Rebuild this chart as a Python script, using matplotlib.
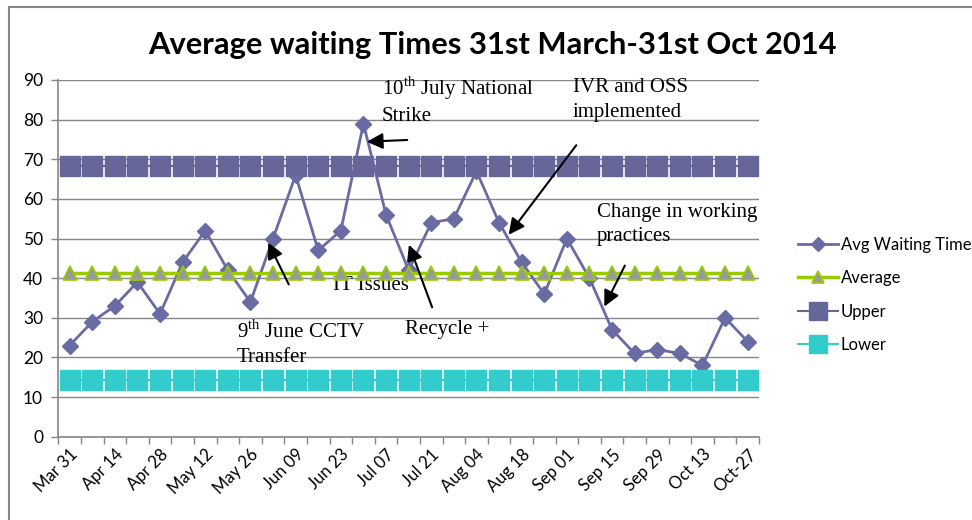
import matplotlib
matplotlib.use("Agg")
import matplotlib.pyplot as plt
from matplotlib.patches import Rectangle

# weekly categories
weeks = ["Mar 31", "Apr 07", "Apr 14", "Apr 21", "Apr 28", "May 05", "May 12", "May 19",
         "May 26", "Jun 02", "Jun 09", "Jun 16", "Jun 23", "Jun 30", "Jul 07", "Jul 14",
         "Jul 21", "Jul 28", "Aug 04", "Aug 11", "Aug 18", "Aug 25", "Sep 01", "Sep 08",
         "Sep 15", "Sep 22", "Sep 29", "Oct 06", "Oct 13", "Oct 20", "Oct-27"]
avg_waiting = [23, 29, 33, 39, 31, 44, 52, 42, 34, 50, 66, 47, 52, 79, 56, 42,
               54, 55, 67, 54, 44, 36, 50, 40, 27, 21, 22, 21, 18, 30, 24]
average_val = 41.4
upper_val = 68.3
lower_val = 14.3
average = [average_val] * len(weeks)
upper = [upper_val] * len(weeks)
lower = [lower_val] * len(weeks)

plt.rcParams["mathtext.fontset"] = "custom"
plt.rcParams["mathtext.rm"] = "Liberation Serif"

fig = plt.figure(figsize=(9.72, 5.2), dpi=100)
ax = fig.add_axes([58.3 / 972, 1 - 436.7 / 520, (759 - 58.3) / 972, (436.7 - 80) / 520])

x = list(range(len(weeks)))
ax.plot(x, avg_waiting, color="#6B6BA3", lw=2.0, marker="D", ms=8,
        label="Avg Waiting Time", zorder=3)
ax.plot(x, average, color="#99CC00", lw=2.5, marker="^", ms=10, mfc="#999999",
        mec="#99CC00", mew=1.2, label="Average", zorder=4)
ax.plot(x, upper, color="#666699", lw=1.5, marker="s", ms=14.5, label="Upper", zorder=5)
ax.plot(x, lower, color="#33CCCC", lw=1.5, marker="s", ms=14.5, label="Lower", zorder=5)

ax.set_xlim(-0.5, len(weeks) - 0.5)
ax.set_ylim(0, 90)
ax.set_yticks(range(0, 91, 10))
ax.yaxis.grid(True, color="#868686", lw=1.0)
ax.set_axisbelow(True)
for s in ["top", "right"]:
    ax.spines[s].set_visible(False)
for s in ["left", "bottom"]:
    ax.spines[s].set_color("#868686")
    ax.spines[s].set_linewidth(1.2)

ax.set_xticks(x[::2])
ax.set_xticklabels(weeks[::2], rotation=45, ha="right", rotation_mode="anchor",
                   family="Lato", fontsize=12)
ax.set_xticks([i - 0.5 for i in range(len(weeks) + 1)], minor=True)
ax.tick_params(axis="x", which="major", length=0, pad=7)
ax.tick_params(axis="x", which="minor", length=5, color="#868686", width=1)
ax.tick_params(axis="y", length=5, color="#868686", width=1, labelsize=12.5, pad=6)
for lab in ax.get_yticklabels():
    lab.set_family("Lato")

fig.suptitle("Average waiting Times 31st March-31st Oct 2014", x=492 / 972, y=1 - 45 / 520,
             va="center", fontsize=22.2, fontweight="bold", family="Lato")

serif = dict(family="Liberation Serif", fontsize=15, va="top", ha="left", linespacing=1.4)
ax.text(13.82, 91.5, "10$^{\\mathrm{th}}$ July National\nStrike", **serif)
ax.text(22.27, 90.5, "IVR and OSS\nimplemented", **serif)
ax.text(23.33, 59, "Change in working\npractices", **serif)
ax.text(11.65, 40.5, "IT Issues", **serif)
ax.text(7.41, 29.5, "9$^{\\mathrm{th}}$ June CCTV\nTransfer", **serif)
ax.text(14.84, 29.5, "Recycle +", **serif)

arrow = dict(arrowstyle="-|>", color="black", lw=1.5, mutation_scale=24)
ax.annotate("", xy=(13.03, 74.4), xytext=(15.06, 74.9), arrowprops=arrow, zorder=6)
ax.annotate("", xy=(8.73, 49.6), xytext=(9.75, 37.8), arrowprops=arrow, zorder=6)
ax.annotate("", xy=(14.97, 49.1), xytext=(16.08, 32.0), arrowprops=arrow, zorder=6)
ax.annotate("", xy=(19.35, 50.4), xytext=(22.49, 74.1), arrowprops=arrow, zorder=6)
ax.annotate("", xy=(23.6, 32.2), xytext=(24.62, 43.8), arrowprops=arrow, zorder=6)

fig.legend(loc="center left", bbox_to_anchor=(783 / 972, 1 - 295 / 520), frameon=False,
           prop={"family": "Lato", "size": 12}, handlelength=2.4, labelspacing=1.05,
           markerscale=0.85, handletextpad=0.15)

fig.add_artist(Rectangle((9 / 972, -0.05), 1.0, 1 - 7 / 520 + 0.05, transform=fig.transFigure,
                         fill=False, edgecolor="#868686", lw=1.5))

fig.savefig("out.png", dpi=100)
